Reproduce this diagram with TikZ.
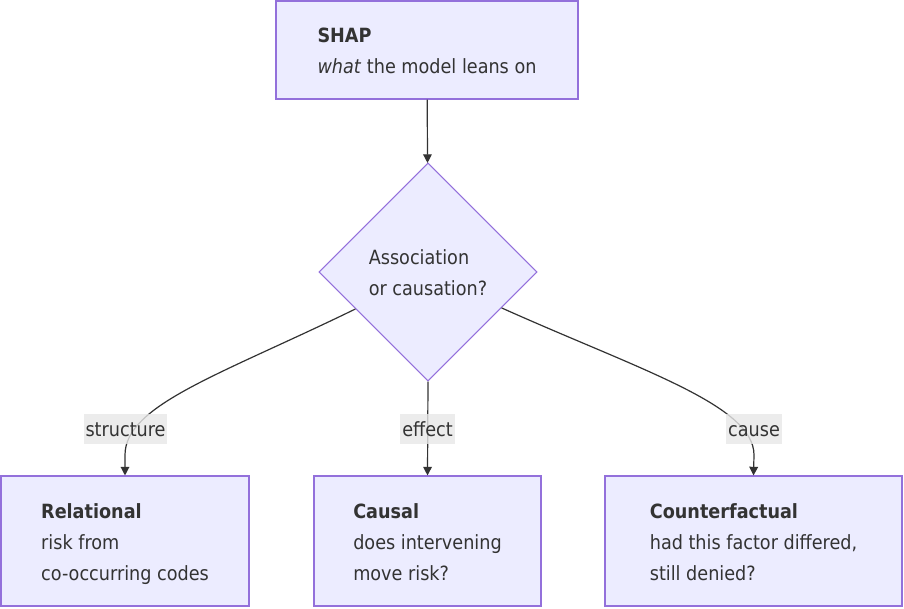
\documentclass[tikz,border=0pt]{standalone}
\usepackage{fontspec}
\setmainfont{DejaVu Sans Condensed}
\usetikzlibrary{shapes.geometric,arrows.meta,calc}
\definecolor{nodefill}{HTML}{ECECFF}
\definecolor{nodeline}{HTML}{9370DB}
\definecolor{edgecol}{HTML}{333333}
\definecolor{txt}{HTML}{333333}
\definecolor{lblbg}{HTML}{E8E8E8}
\begin{document}
\begin{tikzpicture}[x=0.75pt,y=-0.75pt,
  every node/.style={font=\fontsize{14.7}{23.25}\selectfont, text=txt},
  box/.style={draw=nodeline, fill=nodefill, line width=0.8pt, align=left, inner sep=0pt, minimum height=97.5pt,
    text height=62.2pt, text depth=3.5pt},
  twoline/.style={text height=38pt, text depth=3.5pt},
  decision/.style={diamond, aspect=1, draw=nodeline, fill=nodefill, line width=0.8pt, align=left, inner sep=0pt, minimum width=163.5pt, minimum height=163.5pt},
  lbl/.style={fill=lblbg, fill opacity=0.8, text opacity=1, inner xsep=1.5pt, inner ysep=0pt, minimum height=22.5pt,
    text height=14.5pt, text depth=3.5pt},
  edge/.style={draw=edgecol, line width=0.9pt, -{Triangle[length=6.5pt,width=6.5pt]}}
]
\useasboundingbox (0,0) rectangle (904,608);
\fill[white] (0,0) rectangle (904,608);

\node[box, twoline, minimum width=226.5pt, minimum height=73.5pt] (shap) at (427,50) {\textbf{SHAP}\\\textit{what} the model leans on};
\node[decision, twoline] (q) at (428,272) {Association\\or causation?};
\node[box, minimum width=186pt] (rel) at (125,541) {\textbf{Relational}\\risk from\\co-occurring codes};
\node[box, minimum width=170.25pt] (cau) at (427.5,541) {\textbf{Causal}\\does intervening\\move risk?};
\node[box, minimum width=222.75pt] (cf) at (753.5,541) {\textbf{Counterfactual}\\had this factor differed,\\still denied?};

\draw[edge] (shap) -- (q);
\draw[edge] (q.south) -- (cau.north);
\draw[edge] (q.207) .. controls (220,375) and (125,405) .. (125,455) -- (rel.north);
\draw[edge] (q.334) .. controls (640,370) and (754,405) .. (754,455) -- (cf.north);

\node[lbl] (l1) at (125.5,429) {structure};
\node[lbl] (l2) at (427.5,429) {effect};
\node[lbl] (l3) at (754,429) {cause};
\end{tikzpicture}
\end{document}
